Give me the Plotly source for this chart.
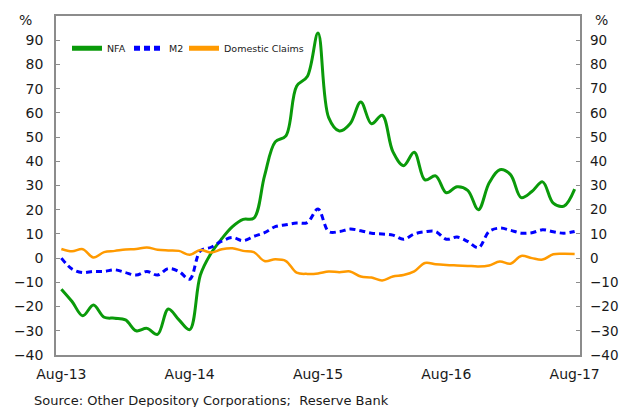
import plotly.graph_objects as go
import pandas as pd

months = [d.strftime("%b-%y") for d in pd.date_range("2013-08-01", "2017-08-01", freq="MS")]

nfa = [-12.8, -17.9, -23.8, -19.4, -24.4, -24.8, -25.5, -30.0, -29.0, -31.5,
       -21.0, -25.5, -29.5, -7.0, 2.0, 8.0, 13.0, 16.0, 16.5, 34.0,
       48.0, 50.5, 71.0, 75.0, 93.0, 58.0, 52.5, 55.5, 64.5, 55.5,
       59.0, 44.0, 38.2, 43.7, 32.3, 34.0, 27.0, 29.5, 28.0, 20.0,
       31.0, 36.5, 34.5, 25.0, 27.5, 31.5, 22.7, 21.5, 28.5]
m2 = [0.0, -4.5, -6.0, -5.5, -5.5, -4.8, -6.0, -7.0, -5.5, -7.0,
      -4.3, -5.5, -8.7, 3.0, 4.5, 7.0, 8.5, 7.2, 9.0, 10.5,
      13.0, 13.8, 14.5, 14.7, 20.3, 11.0, 11.0, 12.0, 11.3, 10.3,
      10.0, 9.5, 7.8, 10.0, 10.9, 11.0, 7.8, 8.7, 6.9, 4.3,
      11.0, 12.4, 11.5, 10.3, 10.5, 11.7, 10.9, 10.3, 11.0]
dom_claims = [3.8, 2.8, 3.7, 0.3, 2.5, 3.0, 3.6, 3.8, 4.4, 3.5,
              3.2, 3.0, 1.4, 3.4, 2.3, 3.7, 4.1, 3.0, 2.5, -1.2,
              -0.5, -1.2, -6.0, -6.5, -6.3, -5.5, -5.8, -5.5, -7.6, -8.0,
              -9.2, -7.6, -7.0, -5.5, -2.0, -2.5, -2.8, -3.0, -3.2, -3.4,
              -3.0, -1.4, -2.3, 0.9, 0.0, -0.6, 1.6, 1.8, 1.7]

tick_labels = ["Aug-13", "Aug-14", "Aug-15", "Aug-16", "Aug-17"]
y_ticks = list(range(-40, 100, 10))

FONT = "DejaVu Sans"
TXT = "#1a1a1a"
FRAME = "#8c8c8c"

fig = go.Figure()
fig.add_trace(go.Scatter(x=months, y=nfa, name="NFA", mode="lines",
                         legendwidth=17,
                         line=dict(color="#0A9A0A", width=3, shape="spline", smoothing=1.0)))
fig.add_trace(go.Scatter(x=months, y=m2, name="M2", mode="lines",
                         legendwidth=10,
                         line=dict(color="#0000FF", width=3, dash="6px,4px", shape="spline", smoothing=1.0)))
fig.add_trace(go.Scatter(x=months, y=dom_claims, name="Domestic Claims", mode="lines",
                         legendwidth=90,
                         line=dict(color="#FF9A00", width=2.5, shape="spline", smoothing=1.0)))
# invisible trace for right axis
fig.add_trace(go.Scatter(x=months, y=nfa, yaxis="y2", mode="lines", showlegend=False,
                         hoverinfo="skip", line=dict(width=0, color="rgba(0,0,0,0)")))

fig.update_layout(
    width=619, height=407,
    margin=dict(l=56, r=39, t=16, b=52, autoexpand=False),
    plot_bgcolor="white", paper_bgcolor="white",
    font=dict(family=FONT, size=14, color=TXT),
    showlegend=True,
    legend=dict(orientation="h", x=0.021, y=0.905, xanchor="left", yanchor="middle",
                font=dict(size=9.5, color=TXT), bgcolor="rgba(0,0,0,0)",
                itemwidth=30, tracegroupgap=0, itemsizing="constant"),
    xaxis=dict(type="category", categoryorder="array", categoryarray=months,
               range=[-0.5, len(months) - 0.5], automargin=False,
               tickvals=tick_labels, ticktext=tick_labels, ticks="", showgrid=False,
               zeroline=False, showline=True, linecolor=FRAME, linewidth=1.5, mirror=True,
               ticklabelstandoff=5, tickfont=dict(size=14, color=TXT)),
    xaxis2=dict(type="linear", overlaying="x", anchor="free", position=40 / 140, side="top",
                range=[-0.5, len(months) - 0.5], automargin=False,
                tickvals=[5.5 + 6 * k for k in range(8)], ticks="outside", ticklen=5,
                tickcolor=FRAME, tickwidth=1.2, showticklabels=False,
                showline=True, linecolor="#9a9a9a", linewidth=1.5, showgrid=False,
                zeroline=False, layer="below traces"),
    yaxis=dict(range=[-40, 100], tickvals=y_ticks, ticks="inside", ticklen=4, tickcolor=FRAME,
               automargin=False,
               showgrid=False, zeroline=False, showline=True, linecolor=FRAME, linewidth=1.5,
               mirror=True, ticklabelstandoff=8, tickfont=dict(size=14, color=TXT)),
    yaxis2=dict(range=[-40, 100], overlaying="y", side="right", tickvals=y_ticks,
                automargin=False,
                ticks="inside", ticklen=4, tickcolor=FRAME, showgrid=False, zeroline=False,
                showline=False, ticklabelstandoff=9, tickfont=dict(size=13.5, color=TXT)),
    annotations=[
        dict(text="%", xref="paper", yref="paper", x=0, y=1, xshift=-31, yshift=-4,
             showarrow=False, font=dict(size=14, color=TXT), xanchor="center", yanchor="middle"),
        dict(text="%", xref="paper", yref="paper", x=1, y=1, xshift=21, yshift=-4,
             showarrow=False, font=dict(size=14, color=TXT), xanchor="center", yanchor="middle"),
        dict(text="Source: Other Depository Corporations;  Reserve Bank", xref="paper", yref="paper",
             x=0, y=0, xshift=-24, yshift=-45, showarrow=False, xanchor="left", yanchor="middle",
             font=dict(size=13, color=TXT)),
    ],
)

fig.write_html("out.html")
